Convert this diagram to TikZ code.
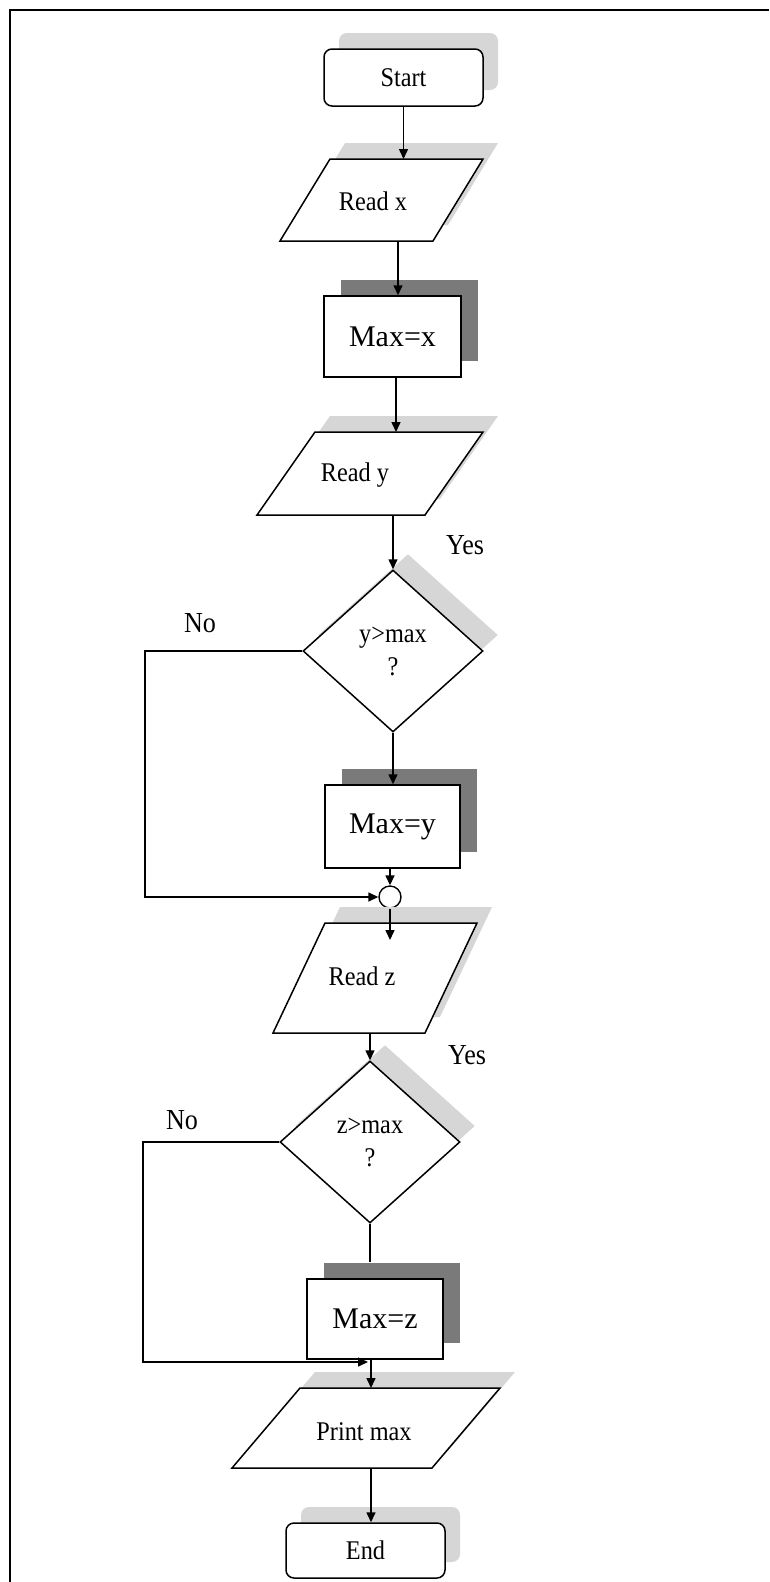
\documentclass[tikz,border=0pt]{standalone}
\usepackage{fontspec}
\setmainfont{Liberation Serif}
\newfontfamily\condfont{Liberation Serif}[FakeStretch=0.9]
\usetikzlibrary{shapes.geometric,arrows.meta,shadows}
\definecolor{lightsh}{RGB}{214,214,214}
\definecolor{darksh}{RGB}{122,122,122}
\newcommand\ioshape[5]{%
  \fill[lightsh] ({#1+15},{#3-16}) -- ++(#2,0) -- ({#4+#2+15},{#5-16}) -- ({#4+15},{#5-16}) -- cycle;
  \draw[shp] (#1,#3) -- ++(#2,0) -- ({#4+#2},#5) -- (#4,#5) -- cycle;}
\begin{document}
\begin{tikzpicture}[x=1pt,y=-1pt,
  shp/.style={draw=black, line width=1.5pt, fill=white},
  lshadow/.style={general shadow={fill=lightsh, shadow xshift=15pt, shadow yshift=16pt}},
  dshadow/.style={general shadow={fill=darksh, shadow xshift=17pt, shadow yshift=16pt}},
  term/.style={shp, lshadow, rounded corners=8pt, inner sep=0pt, font=\condfont\fontsize{27}{30}\selectfont},
  procbox/.style={shp, dshadow, inner sep=0pt, font=\fontsize{30}{34}\selectfont},
  decision/.style={shp, lshadow, diamond, inner sep=0pt, minimum width=180pt, minimum height=162pt, align=center, font=\condfont\fontsize{27}{33}\selectfont},
  txt/.style={inner sep=0pt, font=\condfont\fontsize{27}{30}\selectfont},
  lbl/.style={inner sep=0pt, font=\condfont\fontsize{29}{30}\selectfont},
  ln/.style={line width=1.5pt},
  arr/.style={line width=1.5pt, -{Triangle[length=10pt,width=9pt]}},
  merge/.style={circle, draw, line width=1.4pt, fill=white, minimum size=22pt, inner sep=0pt}
]
\useasboundingbox (0,0) rectangle (769,1582);
\fill[white] (0,0) rectangle (769,1582);
% frame
\draw[line width=2.4pt] (769,10) -- (10,10) -- (10,1582);

% Start
\node[term, minimum width=159pt, minimum height=57pt] (start) at (403.5,77.5) {Start};

% Read x
\ioshape{330}{153}{159}{280}{241}
\node[txt] (readx) at (373,201) {Read x};
\coordinate (readx-in) at (403.5,159);
\coordinate (readx-out) at (398,241);

% Max=x
\node[procbox, minimum width=137pt, minimum height=81pt] (maxx) at (392.5,336.5) {Max=x};

% Read y
\ioshape{315}{168}{432}{257}{515}
\node[txt] (ready) at (355,475) {Read y};
\coordinate (ready-in) at (396,432);
\coordinate (ready-out) at (393,515);

% Decision y
\node[decision] (dy) at (393,651) {y>max\\?};
\node[lbl] (yes1) at (465,545) {Yes};
\node[lbl] (no1) at (200,623) {No};

% Max=y
\node[procbox, minimum width=135pt, minimum height=83pt] (maxy) at (392.5,826.5) {Max=y};

% merge circle
\node[merge] (m1) at (390,897) {};
\coordinate (noy) at (145,897);

% Read z
\ioshape{325}{152}{923}{273}{1033}
\node[txt] (readz) at (362,976) {Read z};
\coordinate (readz-in) at (390,940);
\coordinate (readz-out) at (370,1033);

% Decision z
\node[decision] (dz) at (370,1142) {z>max\\?};
\node[lbl] (yes2) at (467,1055) {Yes};
\node[lbl] (no2) at (182,1120) {No};

% Max=z
\node[procbox, minimum width=136pt, minimum height=80pt] (maxz) at (375,1319) {Max=z};
\coordinate (noz) at (143,1362);
\coordinate (mz-join) at (368,1362);

% Print max
\ioshape{300}{200}{1388}{232}{1468}
\node[txt] (printm) at (364,1432) {Print max};
\coordinate (printm-in) at (371,1388);
\coordinate (printm-out) at (371,1468);

% End
\node[term, minimum width=159pt, minimum height=55pt] (end) at (365.5,1550.5) {End};

% connectors
\draw[arr] (start.south) -- (readx-in);
\draw[arr] (readx-out) -- (readx-out |- maxx.north);
\draw[arr] (ready-in |- maxx.south) -- (ready-in);
\draw[arr] (ready-out) -- (dy.north);
\draw[arr] (dy.south) -- (dy.south |- maxy.north);
\draw[arr] (m1.north |- maxy.south) -- (m1.north);
\draw[arr] (dy.west) -| (noy) -- (m1.west);
\draw[arr] (m1.south) -- (readz-in);
\draw[arr] (readz-out) -- (dz.north);
\draw[ln] (dz.south) -- ([yshift=16pt]dz.south |- maxz.north);
\draw[arr] (dz.west) -| (noz) -- (mz-join);
\draw[arr] (printm-in |- maxz.south) -- (printm-in);
\draw[arr] (printm-out) -- (printm-out |- end.north);
\end{tikzpicture}
\end{document}
